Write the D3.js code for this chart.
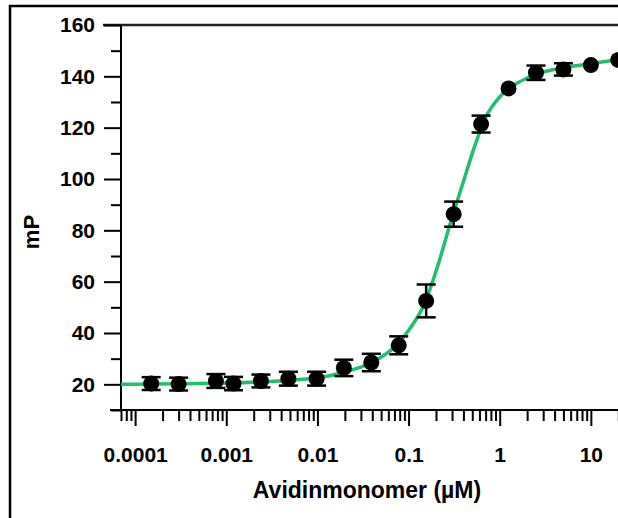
<!DOCTYPE html>
<html>
<head>
<meta charset="utf-8">
<script src="https://cdn.jsdelivr.net/npm/d3@7"></script>
<style>
  body { margin: 0; background: #fff; }
  svg text { font-family: "Liberation Sans", Arial, sans-serif; font-weight: bold; fill: #000; }
</style>
</head>
<body>
<div id="chart"></div>
<script>
// measured points (concentration in µM, mP, error)
const conc = [0.00015, 0.0003, 0.00077, 0.0012, 0.0024, 0.0048, 0.0098, 0.0195, 0.039, 0.078,
              0.156, 0.3125, 0.625, 1.25, 2.5, 5, 10, 20];
const mP = [20.3, 20.1, 21.3, 20.3, 21.3, 22.2, 22.2, 26.4, 28.5, 35.2,
            52.5, 86.3, 121.4, 135.3, 141.4, 142.7, 144.4, 146.4];
const err = [2.5, 2.5, 2.7, 2.6, 2.5, 2.7, 2.7, 3.2, 3.4, 3.5,
             6.4, 4.9, 3.3, 0, 2.8, 2.4, 0, 0];

// fitted curve
const fitX = [0.00007, 0.0001, 0.0003, 0.001, 0.003, 0.006, 0.01, 0.02, 0.04, 0.07, 0.1,
              0.15, 0.2, 0.3, 0.4, 0.5, 0.7, 1, 1.5, 2, 3, 5, 10, 20, 40];
const fitY = [20, 20.05, 20.2, 20.5, 21.1, 21.8, 22.5, 24.8, 28.6, 34.5, 41,
              51.5, 64, 85, 99, 110, 124, 132, 137, 139.3, 141.7, 143.3, 144.9, 146.5, 147.5];

const yMajor = [20, 40, 60, 80, 100, 120, 140, 160];
const yMinor = [10, 30, 50, 70, 90, 110, 130, 150];
const xMajor = [0.0001, 0.001, 0.01, 0.1, 1, 10];
const xLabels = ["0.0001", "0.001", "0.01", "0.1", "1", "10"];

const W = 618, H = 518;
const x = d3.scaleLog().domain([0.00007, 100]).range([121, 682]);
const y = d3.scaleLinear().domain([10, 160]).range([410, 25]);

// minor ticks on the log axis: 2..9 of each decade, plus 7,8,9e-5
const xMinor = [0.00007, 0.00008, 0.00009];
xMajor.forEach(d => {
    for (let k = 2; k <= 9; k++) xMinor.push(d * k);
});

const svg = d3.select("#chart").append("svg")
    .attr("width", W)
    .attr("height", H);

// outer frame (continues past the picture)
svg.append("rect")
    .attr("x", 10).attr("y", 6)
    .attr("width", 800).attr("height", 700)
    .attr("fill", "none")
    .attr("stroke", "#000")
    .attr("stroke-width", 2.5);

// top line at 160
svg.append("line")
    .attr("x1", 103).attr("x2", W + 10)
    .attr("y1", y(160)).attr("y2", y(160))
    .attr("stroke", "#222")
    .attr("stroke-width", 2.5);

// y axis
const yAxisMinor = svg.append("g")
    .attr("transform", `translate(${x(0.00007)},0)`)
    .call(d3.axisLeft(y).tickValues(yMinor).tickSize(10).tickSizeOuter(0).tickFormat(""));
const yAxis = svg.append("g")
    .attr("transform", `translate(${x(0.00007)},0)`)
    .call(d3.axisLeft(y).tickValues(yMajor).tickSize(17).tickSizeOuter(0).tickPadding(9));
yAxis.selectAll("text").style("font-size", "21px");

// x axis
const xAxisMinor = svg.append("g")
    .attr("transform", `translate(0,${y(10)})`)
    .call(d3.axisBottom(x).tickValues(xMinor).tickSize(11).tickSizeOuter(0).tickFormat(""));
const xAxis = svg.append("g")
    .attr("transform", `translate(0,${y(10)})`)
    .call(d3.axisBottom(x).tickValues(xMajor).tickSize(16).tickSizeOuter(0).tickPadding(21)
        .tickFormat((d, i) => xLabels[i]));
xAxis.selectAll("text").style("font-size", "21px");

[yAxisMinor, yAxis, xAxisMinor, xAxis].forEach(g => {
    g.selectAll("path.domain").remove();
    g.selectAll("line").attr("stroke", "#000").attr("stroke-width", 2);
});

svg.append("line")
    .attr("x1", x(0.00007)).attr("x2", x(0.00007))
    .attr("y1", y(160)).attr("y2", y(10))
    .attr("stroke", "#000").attr("stroke-width", 2);
svg.append("line")
    .attr("x1", 110).attr("x2", W + 10)
    .attr("y1", y(10)).attr("y2", y(10))
    .attr("stroke", "#000").attr("stroke-width", 2);

// axis titles
svg.append("text")
    .attr("x", 367).attr("y", 498)
    .attr("text-anchor", "middle")
    .style("font-size", "23px")
    .text("Avidinmonomer (µM)");

svg.append("text")
    .attr("transform", "translate(39,232) rotate(-90)")
    .attr("text-anchor", "middle")
    .style("font-size", "22px")
    .text("mP");

// fitted curve
const fit = fitX.map((d, i) => [d, fitY[i]]);
svg.append("path")
    .datum(fit)
    .attr("fill", "none")
    .attr("stroke", "#1fbf6e")
    .attr("stroke-width", 3.5)
    .attr("d", d3.line().x(d => x(d[0])).y(d => y(d[1])).curve(d3.curveMonotoneX));

// error bars
const points = conc.map((d, i) => ({ c: d, v: mP[i], e: err[i] }));
const bars = svg.append("g")
    .selectAll("g")
    .data(points.filter(d => d.e > 0))
    .join("g")
    .attr("stroke", "#000")
    .attr("stroke-width", 2.5);
bars.append("line")
    .attr("x1", d => x(d.c)).attr("x2", d => x(d.c))
    .attr("y1", d => y(d.v - d.e)).attr("y2", d => y(d.v + d.e));
bars.append("line")
    .attr("x1", d => x(d.c) - 9.5).attr("x2", d => x(d.c) + 9.5)
    .attr("y1", d => y(d.v + d.e)).attr("y2", d => y(d.v + d.e));
bars.append("line")
    .attr("x1", d => x(d.c) - 9.5).attr("x2", d => x(d.c) + 9.5)
    .attr("y1", d => y(d.v - d.e)).attr("y2", d => y(d.v - d.e));

// dots
svg.append("g")
    .selectAll("circle")
    .data(points)
    .join("circle")
    .attr("cx", d => x(d.c))
    .attr("cy", d => y(d.v))
    .attr("r", 8)
    .attr("fill", "#000");
</script>
</body>
</html>
